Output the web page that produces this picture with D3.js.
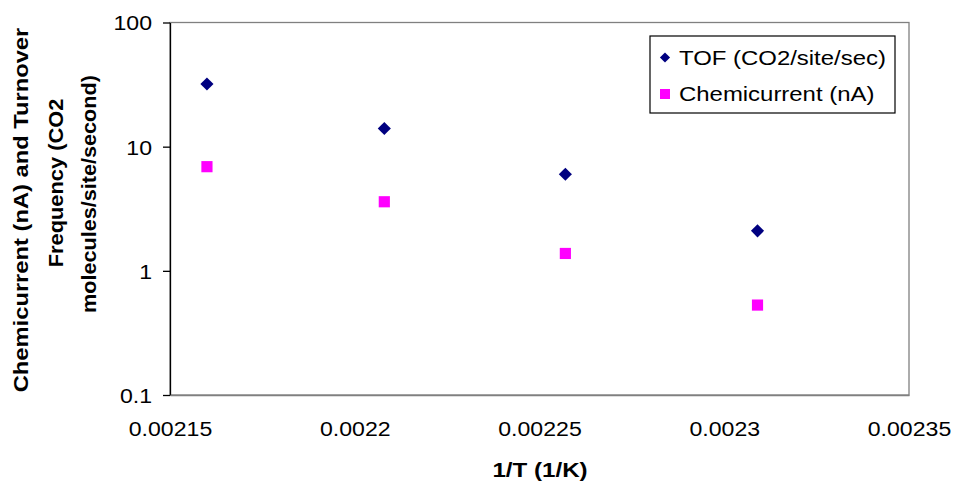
<!DOCTYPE html>
<html><head><meta charset="utf-8">
<script src="https://cdn.jsdelivr.net/npm/d3@7/dist/d3.min.js"></script>
<style>
body{margin:0;background:#fff}
svg{display:block}
text{font-family:"Liberation Sans",Arial,Helvetica,sans-serif;fill:#000}
</style>
</head><body>
<svg width="956" height="484"></svg>
<script>
// ---- data ----
const invT = [0.002160, 0.002208, 0.002257, 0.002309];   // 1/T (1/K)
const tof = [32, 14, 6, 2.1];                              // TOF (CO2/site/sec)
const chemicurrent = [6.9, 3.6, 1.38, 0.53];               // Chemicurrent (nA)
const xTicks = [0.00215, 0.0022, 0.00225, 0.0023, 0.00235];
const xTickLabels = ["0.00215", "0.0022", "0.00225", "0.0023", "0.00235"];
const yTicks = [0.1, 1, 10, 100];
const yTickLabels = ["0.1", "1", "10", "100"];
const seriesNames = ["TOF (CO2/site/sec)", "Chemicurrent (nA)"];
const xTitle = "1/T (1/K)";
const yTitleLines = ["Chemicurrent (nA) and Turnover", "Frequency (CO2", "molecules/site/second)"];

// ---- layout ----
const svg = d3.select("svg");
const L = 170, R = 909, T = 22.5, B = 395;
const SX = 1.1; // horizontal font stretch
const x = d3.scaleLinear().domain([xTicks[0], xTicks[xTicks.length - 1]]).range([L, R]);
const y = d3.scaleLog().domain([yTicks[0], yTicks[yTicks.length - 1]]).range([B, T]);

// plot frame
svg.append("rect").attr("x", L).attr("y", T).attr("width", R - L).attr("height", B - T)
  .attr("fill", "#fff").attr("stroke", "#808080").attr("stroke-width", 1.3);

// y axis
const ya = svg.append("g").attr("transform", `translate(${L},0)`)
  .call(d3.axisLeft(y).tickValues(yTicks).tickFormat((d, i) => yTickLabels[i])
    .tickSize(7).tickSizeOuter(0).tickPadding(0))
  .attr("font-size", null).attr("font-family", null);
ya.select(".domain").attr("stroke", "#000").attr("stroke-width", 1.3);
ya.selectAll(".tick line").attr("stroke", "#000").attr("stroke-width", 1.3);
ya.selectAll(".tick text").attr("x", null).attr("dy", "0.35em")
  .attr("transform", `translate(-18,0) scale(${SX},1)`)
  .style("font-size", "21px").attr("fill", "#000");

// x axis
const xa = svg.append("g").attr("transform", `translate(0,${B})`)
  .call(d3.axisBottom(x).tickValues(xTicks).tickFormat((d, i) => xTickLabels[i])
    .tickSize(0).tickSizeOuter(0).tickPadding(0))
  .attr("font-size", null).attr("font-family", null);
xa.select(".domain").attr("stroke", "#808080").attr("stroke-width", 1.3);
xa.selectAll(".tick text").attr("y", 0).attr("dy", null)
  .attr("transform", `translate(0,41) scale(${SX},1)`)
  .style("font-size", "21px").attr("fill", "#000");

// markers
const diamond = d3.symbol().type(d3.symbolSquare).size(86);
const square = d3.symbol().type(d3.symbolSquare).size(125);
const pts = svg.append("g");
pts.selectAll(".tof").data(invT.map((v, i) => [v, tof[i]])).join("path")
  .attr("class", "tof")
  .attr("d", diamond)
  .attr("transform", d => `translate(${x(d[0])},${y(d[1])}) rotate(45)`)
  .attr("fill", "#000080");
pts.selectAll(".chem").data(invT.map((v, i) => [v, chemicurrent[i]])).join("path")
  .attr("class", "chem")
  .attr("d", square)
  .attr("transform", d => `translate(${x(d[0])},${y(d[1])})`)
  .attr("fill", "#FF00FF");

// legend
const lg = svg.append("g");
lg.append("rect").attr("x", 650).attr("y", 36).attr("width", 245).attr("height", 77)
  .attr("fill", "#fff").attr("stroke", "#000").attr("stroke-width", 1.2);
const legItems = [
  {name: seriesNames[0], sym: d3.symbol().type(d3.symbolSquare).size(52), rot: 45, color: "#000080", cy: 57.5},
  {name: seriesNames[1], sym: d3.symbol().type(d3.symbolSquare).size(100), rot: 0, color: "#FF00FF", cy: 94}
];
legItems.forEach(it => {
  lg.append("path").attr("d", it.sym).attr("fill", it.color)
    .attr("transform", `translate(665,${it.cy}) rotate(${it.rot})`);
  lg.append("text").text(it.name).attr("dy", "0.35em")
    .attr("transform", `translate(679,${it.cy}) scale(${SX + 0.04},1)`)
    .style("font-size", "21px");
});

// axis titles
svg.append("text").text(xTitle).attr("text-anchor", "middle")
  .attr("transform", `translate(540,477) scale(${SX + 0.05},1)`)
  .style("font-size", "21px").style("font-weight", "bold");

const yTitlePos = [[21, 210, 1.13], [55.5, 183, 1.04], [89, 194, 1.03]];
yTitleLines.forEach((s, i) => {
  svg.append("text").text(s).attr("text-anchor", "middle").attr("dy", "0.35em")
    .attr("transform", `translate(${yTitlePos[i][0]},${yTitlePos[i][1]}) rotate(-90) scale(${yTitlePos[i][2]},1)`)
    .style("font-size", "21px").style("font-weight", "bold");
});
</script>
</body></html>
